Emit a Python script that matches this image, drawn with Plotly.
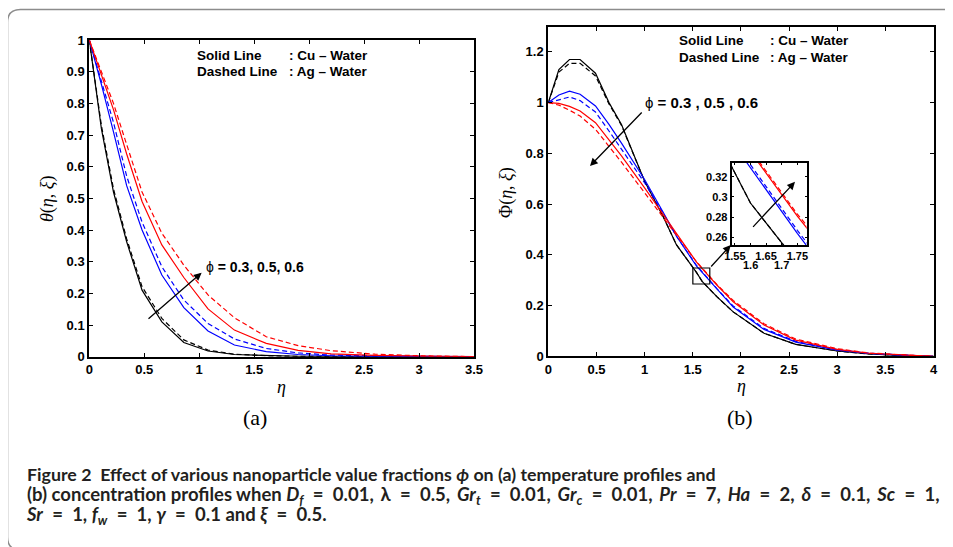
import plotly.graph_objects as go

# the page body has an 8px margin, so the figure is 8px smaller than the window on each visible side
OFF = 8
W, H = 953 - OFF, 547 - OFF

# ---------------- data: panel (a) temperature profiles ----------------
eta_a = [0, 0.11, 0.22, 0.34, 0.48, 0.66, 0.86, 1.08, 1.32, 1.61, 1.9, 2.2, 2.6, 3.0, 3.5]
theta_cu_03 = [1, 0.72, 0.52, 0.363, 0.21, 0.11, 0.045, 0.018, 0.007, 0.003, 0.001, 0, 0, 0, 0]
theta_ag_03 = [1, 0.73, 0.53, 0.372, 0.221, 0.121, 0.053, 0.021, 0.008, 0.003, 0.001, 0, 0, 0, 0]
theta_cu_05 = [1, 0.86, 0.71, 0.54, 0.40, 0.258, 0.155, 0.081, 0.037, 0.016, 0.007, 0.003, 0.001, 0, 0]
theta_ag_05 = [1, 0.87, 0.74, 0.57, 0.425, 0.284, 0.179, 0.105, 0.056, 0.026, 0.012, 0.005, 0.002, 0.001, 0]
theta_cu_06 = [1, 0.89, 0.78, 0.64, 0.49, 0.353, 0.25, 0.151, 0.084, 0.042, 0.02, 0.009, 0.004, 0.002, 0]
theta_ag_06 = [1, 0.90, 0.80, 0.67, 0.52, 0.39, 0.289, 0.195, 0.123, 0.063, 0.035, 0.019, 0.008, 0.003, 0]

# ---------------- data: panel (b) concentration profiles ----------------
eta_b = [0, 0.11, 0.22, 0.33, 0.49, 0.63, 0.76, 1.0, 1.19, 1.33, 1.54, 1.6, 1.75, 1.92, 2.24, 2.57, 3.0, 3.33, 3.7, 4.0]
phi_cu_03 = [1, 1.13, 1.17, 1.17, 1.116, 1.0, 0.914, 0.69, 0.553, 0.44, 0.33, 0.294, 0.235, 0.175, 0.091, 0.047, 0.021, 0.009, 0.003, 0]
phi_ag_03 = [1, 1.12, 1.155, 1.155, 1.105, 0.995, 0.91, 0.69, 0.553, 0.44, 0.33, 0.294, 0.235, 0.175, 0.091, 0.047, 0.021, 0.009, 0.003, 0]
phi_cu_05 = [1, 1.03, 1.045, 1.033, 0.987, 0.914, 0.84, 0.697, 0.57, 0.474, 0.355, 0.329, 0.264, 0.194, 0.106, 0.056, 0.024, 0.011, 0.004, 0]
phi_ag_05 = [1, 1.01, 1.022, 1.008, 0.963, 0.888, 0.815, 0.684, 0.565, 0.474, 0.358, 0.332, 0.267, 0.198, 0.11, 0.059, 0.026, 0.012, 0.004, 0]
phi_cu_06 = [1, 0.997, 0.985, 0.967, 0.921, 0.855, 0.79, 0.664, 0.56, 0.487, 0.371, 0.345, 0.281, 0.215, 0.123, 0.064, 0.027, 0.012, 0.004, 0]
phi_ag_06 = [1, 0.99, 0.97, 0.947, 0.895, 0.829, 0.765, 0.645, 0.55, 0.48, 0.372, 0.347, 0.283, 0.22, 0.128, 0.068, 0.03, 0.013, 0.005, 0]

# tick labels
ticks_a_x = [0, 0.5, 1, 1.5, 2, 2.5, 3, 3.5]
ticks_a_y = [0, 0.1, 0.2, 0.3, 0.4, 0.5, 0.6, 0.7, 0.8, 0.9, 1]
ticks_b_x = [0, 0.5, 1, 1.5, 2, 2.5, 3, 3.5, 4]
ticks_b_y = [0, 0.2, 0.4, 0.6, 0.8, 1, 1.2]
ticks_in_x_row1 = [1.55, 1.65, 1.75]
ticks_in_x_row2 = [1.6, 1.7]
ticks_in_y = [0.26, 0.28, 0.3, 0.32]


def fmt(v):
    return ("%.2f" % v).rstrip("0").rstrip(".")


def px(x):  # reference pixel -> paper fraction
    return (x - OFF) / W


def py(y):
    return 1 - (y - OFF) / H


BLACK, BLUE, RED = "#000000", "#0000ff", "#ff0000"
SOLID_W, DASH = 1.2, "5px,3px"
TICKFONT = dict(family="Liberation Sans, Arial, sans-serif", size=13, color="black", weight="bold")

fig = go.Figure()

series_a = [(theta_cu_03, BLACK, "solid"), (theta_ag_03, BLACK, DASH),
            (theta_cu_05, BLUE, "solid"), (theta_ag_05, BLUE, DASH),
            (theta_cu_06, RED, "solid"), (theta_ag_06, RED, DASH)]
for ys, c, d in series_a:
    fig.add_trace(go.Scatter(x=eta_a, y=ys, mode="lines", xaxis="x", yaxis="y",
                             line=dict(color=c, width=SOLID_W, dash=d), showlegend=False, hoverinfo="skip"))

series_b = [(phi_cu_03, BLACK, "solid"), (phi_ag_03, BLACK, DASH),
            (phi_cu_05, BLUE, "solid"), (phi_ag_05, BLUE, DASH),
            (phi_cu_06, RED, "solid"), (phi_ag_06, RED, DASH)]
for ys, c, d in series_b:
    fig.add_trace(go.Scatter(x=eta_b, y=ys, mode="lines", xaxis="x2", yaxis="y2",
                             line=dict(color=c, width=SOLID_W, dash=d), showlegend=False, hoverinfo="skip"))
# inset (same data, zoomed)
for ys, c, d in series_b:
    fig.add_trace(go.Scatter(x=eta_b, y=ys, mode="lines", xaxis="x3", yaxis="y3",
                             line=dict(color=c, width=SOLID_W, dash=d), showlegend=False, hoverinfo="skip"))

axis_common = dict(showline=True, linewidth=2, linecolor="black", mirror="ticks", ticks="inside",
                   ticklen=4, tickwidth=1.2, tickcolor="black", showgrid=False, zeroline=False,
                   tickfont=TICKFONT, automargin=False, fixedrange=True)

fig.update_layout(
    width=W, height=H, autosize=False,
    margin=dict(l=0, r=0, t=0, b=0),
    paper_bgcolor="white", plot_bgcolor="white",
    showlegend=False,
    xaxis=dict(domain=[px(89.3), px(474)], range=[0, 3.5], anchor="y",
               tickvals=ticks_a_x, ticktext=[fmt(v) for v in ticks_a_x], **axis_common),
    yaxis=dict(domain=[py(356.7), py(40)], range=[0, 1], anchor="x",
               tickvals=ticks_a_y, ticktext=[fmt(v) for v in ticks_a_y], **axis_common),
    xaxis2=dict(domain=[px(548.3), px(933.5)], range=[0, 4], anchor="y2",
                tickvals=ticks_b_x, ticktext=[fmt(v) for v in ticks_b_x], **axis_common),
    yaxis2=dict(domain=[py(356.3), py(26.5)], range=[0, 1.3], anchor="x2",
                tickvals=ticks_b_y, ticktext=[fmt(v) for v in ticks_b_y], **axis_common),
)
INSET_FONT = dict(TICKFONT, size=11)
inset_common = dict(axis_common)
inset_common["tickfont"] = INSET_FONT
inset_common["ticklen"] = 2
fig.update_layout(
    xaxis3=dict(domain=[px(731.7), px(806.7)], range=[1.54, 1.78], anchor="y3",
                tickvals=ticks_in_x_row1 + ticks_in_x_row2,
                ticktext=[fmt(v) for v in ticks_in_x_row1] + ["" for v in ticks_in_x_row2], **inset_common),
    yaxis3=dict(domain=[py(245), py(162.7)], range=[0.2524, 0.334], anchor="x3",
                tickvals=ticks_in_y, ticktext=[fmt(v) for v in ticks_in_y], **inset_common),
)

ann = []
# second row of inset x tick labels
for v in ticks_in_x_row2:
    ann.append(dict(x=v, xref="x3", y=py(264.5), yref="paper", text=fmt(v), showarrow=False,
                    xanchor="center", yanchor="middle", font=INSET_FONT))

LEGF = dict(family="Liberation Sans, Arial, sans-serif", size=13.5, color="black", weight="bold")
for (lx, cx, y1, y2) in [(195, 286.5, 55.7, 71.7), (676.7, 768, 41, 57)]:
    ann += [
        dict(x=px(lx), y=py(y1), xref="paper", yref="paper", text="Solid Line", showarrow=False,
             xanchor="left", yanchor="middle", font=LEGF),
        dict(x=px(lx), y=py(y2), xref="paper", yref="paper", text="Dashed Line", showarrow=False,
             xanchor="left", yanchor="middle", font=LEGF),
        dict(x=px(cx), y=py(y1), xref="paper", yref="paper", text=": Cu \u2013 Water", showarrow=False,
             xanchor="left", yanchor="middle", font=LEGF),
        dict(x=px(cx), y=py(y2), xref="paper", yref="paper", text=": Ag \u2013 Water", showarrow=False,
             xanchor="left", yanchor="middle", font=LEGF),
    ]

# arrows
ARR = dict(showarrow=True, arrowhead=2, arrowsize=1.2, arrowwidth=1.3, arrowcolor="black", text="",
           standoff=0, startstandoff=0)
ann.append(dict(x=1.022, y=0.265, xref="x", yref="y", ax=0.525, ay=0.116, axref="x", ayref="y", **ARR))
ann.append(dict(x=0.433, y=0.75, xref="x2", yref="y2", ax=0.985, ay=0.967, axref="x2", ayref="y2", **ARR))
ann.append(dict(x=1.895, y=0.4386, xref="x2", yref="y2", ax=1.677, ay=0.348, axref="x2", ayref="y2", **ARR))
ann.append(dict(x=1.7426, y=0.315, xref="x3", yref="y3", ax=1.604, ay=0.2689, axref="x3", ayref="y3", **ARR))

ann.append(dict(x=1.045, y=0.283, xref="x", yref="y", xanchor="left", yanchor="middle", showarrow=False,
                text="\u03d5 <b>= 0.3, 0.5, 0.6</b>",
                font=dict(family="Liberation Sans, Arial, sans-serif", size=14, color="black")))
ann.append(dict(x=0.985, y=1.0, xref="x2", yref="y2", xanchor="left", yanchor="middle", showarrow=False,
                text="\u03d5 <b>= 0.3 , 0.5 , 0.6</b>",
                font=dict(family="Liberation Sans, Arial, sans-serif", size=15, color="black")))

SERIF = dict(family="Liberation Serif, DejaVu Serif, serif", size=18, color="black")
ann += [
    dict(x=px(281.7), y=py(387), xref="paper", yref="paper", text="<i>\u03b7</i>", showarrow=False,
         xanchor="center", yanchor="middle", font=SERIF),
    dict(x=px(741), y=py(386), xref="paper", yref="paper", text="<i>\u03b7</i>", showarrow=False,
         xanchor="center", yanchor="middle", font=SERIF),
    dict(x=px(47), y=py(199), xref="paper", yref="paper", text="<i>\u03b8</i>(<i>\u03b7</i>, <i>\u03be</i>)",
         showarrow=False, xanchor="center", yanchor="middle", textangle=-90, font=SERIF),
    dict(x=px(506), y=py(193), xref="paper", yref="paper", text="\u03a6(<i>\u03b7</i>, <i>\u03be</i>)",
         showarrow=False, xanchor="center", yanchor="middle", textangle=-90, font=SERIF),
    dict(x=px(255), y=py(417), xref="paper", yref="paper", text="(a)", showarrow=False,
         xanchor="center", yanchor="middle", font=dict(SERIF, size=22)),
    dict(x=px(740), y=py(417), xref="paper", yref="paper", text="(b)", showarrow=False,
         xanchor="center", yanchor="middle", font=dict(SERIF, size=22)),
]

EQ = "\u2002=\u2002"      # math-style spacing around '='
CS = ",\u2009 "           # comma followed by slightly wider space
caption_lines = [
    "Figure 2\u00a0\u00a0Effect of various nanoparticle value fractions <i>\u03d5</i> on (a) temperature profiles and",
    "(b) concentration profiles when <i>D<sub>f</sub></i>" + EQ + "0.01" + CS + "\u03bb" + EQ + "0.5" + CS
    + "<i>Gr<sub>t</sub></i>" + EQ + "0.01" + CS + "<i>Gr<sub>c</sub></i>" + EQ + "0.01" + CS
    + "<i>Pr</i>" + EQ + "7" + CS + "<i>Ha</i>" + EQ + "2" + CS + "<i>\u03b4</i>" + EQ + "0.1" + CS
    + "<i>Sc</i>" + EQ + "1,",
    "<i>Sr</i>" + EQ + "1, <i>f<sub>w</sub></i>" + EQ + "1, <i>\u03b3</i>" + EQ + "0.1 and <i>\u03be</i>"
    + EQ + "0.5.",
]
caption_size = [17.8, 18.5, 18.5]
caption_text = "<br>".join(
    f"<span style='font-size:{fs}px'>{t}</span>" for t, fs in zip(caption_lines, caption_size))
ann.append(dict(x=px(24), y=py(495.3), xref="paper", yref="paper", text=caption_text, showarrow=False,
                xanchor="left", yanchor="middle", align="left",
                font=dict(family="Lato, Open Sans, sans-serif", size=15.3, color="#231f20", weight="bold")))

fig.update_layout(annotations=ann)

# zoom rectangle in panel (b)
shapes = [dict(type="rect", xref="x2", yref="y2", x0=1.501, x1=1.677, y0=0.285, y1=0.348,
               line=dict(color="black", width=1.2))]
# rounded frame around figure
r = 13
path = (f"M {px(960)} {py(9.5)} L {px(7.5 + r)} {py(9.5)} Q {px(7.5)} {py(9.5)} {px(7.5)} {py(9.5 + r)} "
        f"L {px(7.5)} {py(537)} Q {px(7.5)} {py(550)} {px(7.5 + r)} {py(550)}")
shapes.append(dict(type="path", xref="paper", yref="paper", path=path, line=dict(color="#8c8c8c", width=1.5)))
fig.update_layout(shapes=shapes)

fig.write_html("out.html")
